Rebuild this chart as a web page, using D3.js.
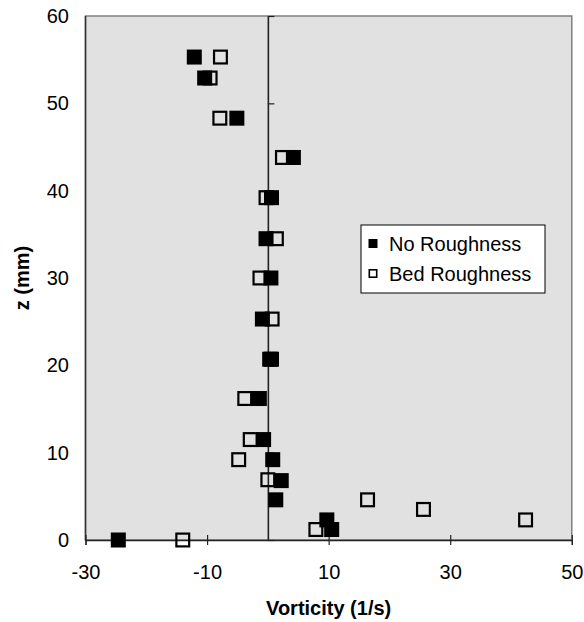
<!DOCTYPE html>
<html>
<head>
<meta charset="utf-8">
<script src="https://cdn.jsdelivr.net/npm/d3@7"></script>
<style>
  html, body { margin: 0; padding: 0; background: #fff; }
  svg { display: block; }
  text { font-family: "Liberation Sans", Arial, sans-serif; fill: #000; }
</style>
</head>
<body>
<svg id="chart" width="584" height="622"></svg>
<script>
// Vorticity profiles: height above bed (mm) and vorticity (1/s)
const noRoughZ    = [55.3, 52.9, 48.3, 43.8, 39.2, 34.5, 30.0, 25.3, 20.7, 16.2, 11.5, 9.2, 6.8, 4.6, 2.3, 1.2, 0];
const noRoughVort = [-12.1, -10.4, -5.1, 4.2, 0.6, -0.3, 0.5, -0.9, 0.6, -1.4, -0.7, 0.8, 2.2, 1.3, 9.7, 10.5, -24.6];

const bedRoughZ    = [55.3, 52.9, 48.3, 43.8, 39.2, 34.5, 30.0, 25.3, 20.7, 16.2, 11.5, 9.2, 6.9, 4.6, 3.5, 2.3, 1.2, 0];
const bedRoughVort = [-7.8, -9.5, -7.9, 2.4, -0.3, 1.4, -1.3, 0.7, 0.3, -3.8, -2.9, -4.8, 0.0, 16.4, 25.6, 42.4, 7.9, -14.0];

const seriesNames = ["No Roughness", "Bed Roughness"];
const xTicks = [-30, -10, 10, 30, 50];
const yTicks = [0, 10, 20, 30, 40, 50, 60];
const xTitle = "Vorticity (1/s)";
const yTitle = "z (mm)";

const svg = d3.select("#chart");
const plot = { left: 85.5, right: 571.8, top: 16, bottom: 540 };
const fmt = d => String(d);   // plain hyphen-minus labels

const x = d3.scaleLinear().domain([-30, 50]).range([plot.left, plot.right]);
const y = d3.scaleLinear().domain([0, 60]).range([plot.bottom, plot.top]);

// plot area
svg.append("rect")
  .attr("x", plot.left).attr("y", plot.top)
  .attr("width", plot.right - plot.left).attr("height", plot.bottom - plot.top)
  .attr("fill", "#e1e1e1")
  .attr("stroke", "#808080").attr("stroke-width", 1.5);
svg.append("line")
  .attr("x1", plot.left).attr("x2", plot.left)
  .attr("y1", plot.top).attr("y2", plot.bottom)
  .attr("stroke", "#333").attr("stroke-width", 1.5);

// x axis along z = 0, ticks crossing the line
const xAxis = svg.append("g")
  .attr("transform", `translate(0,${y(0)})`)
  .call(d3.axisBottom(x).tickValues(xTicks).tickSize(5).tickPadding(20).tickFormat(fmt));
xAxis.select(".domain").attr("stroke", "#222").attr("stroke-width", 1.3);
xAxis.selectAll(".tick line").attr("y1", -5).attr("stroke", "#222").attr("stroke-width", 1.2);
xAxis.selectAll(".tick text").attr("font-size", 20).attr("font-family", "Liberation Sans, Arial, sans-serif");

// y axis along vorticity = 0, ticks crossing the line
const yAxis = svg.append("g")
  .attr("transform", `translate(${x(0)},0)`)
  .call(d3.axisLeft(y).tickValues(yTicks).tickSize(6.5).tickSizeOuter(0).tickFormat(""));
yAxis.select(".domain").attr("stroke", "#222").attr("stroke-width", 1.6);
yAxis.selectAll(".tick line").attr("x2", 6.5).attr("stroke", "#222").attr("stroke-width", 1.2);

// y tick labels at the left edge of the plot
const yLabels = svg.append("g")
  .attr("transform", `translate(${plot.left},0)`)
  .call(d3.axisLeft(y).tickValues(yTicks).tickSize(0).tickPadding(16.5).tickFormat(fmt));
yLabels.select(".domain").remove();
yLabels.selectAll(".tick text").attr("font-size", 20).attr("font-family", "Liberation Sans, Arial, sans-serif");

// axis titles
svg.append("text")
  .attr("x", (plot.left + plot.right) / 2).attr("y", 615)
  .attr("text-anchor", "middle").attr("font-size", 20).attr("font-weight", "bold")
  .text(xTitle);
svg.append("text")
  .attr("transform", `translate(29,${(plot.top + plot.bottom) / 2}) rotate(-90)`)
  .attr("text-anchor", "middle").attr("font-size", 20).attr("font-weight", "bold")
  .text(yTitle);

// markers
const size = 15;
const noRough = noRoughZ.map((z, i) => ({ z, v: noRoughVort[i] }));
const bedRough = bedRoughZ.map((z, i) => ({ z, v: bedRoughVort[i] }));

svg.append("g").selectAll("rect").data(noRough).join("rect")
  .attr("x", d => x(d.v) - size / 2).attr("y", d => y(d.z) - size / 2)
  .attr("width", size).attr("height", size)
  .attr("fill", "#000");

svg.append("g").selectAll("rect").data(bedRough).join("rect")
  .attr("x", d => x(d.v) - size / 2 + 1.1).attr("y", d => y(d.z) - size / 2 + 1.1)
  .attr("width", size - 2.2).attr("height", size - 2.2)
  .attr("fill", "none").attr("stroke", "#000").attr("stroke-width", 2.2);

// legend
const lg = svg.append("g");
lg.append("rect")
  .attr("x", 361).attr("y", 225).attr("width", 184).attr("height", 68)
  .attr("fill", "#fff").attr("stroke", "#000").attr("stroke-width", 1);
seriesNames.forEach((name, i) => {
  const cy = 243.5 + i * 30;
  const m = lg.append("rect")
    .attr("x", 368.5).attr("y", cy - 4.5).attr("width", 9).attr("height", 9);
  if (i === 0) m.attr("fill", "#000");
  else m.attr("x", 369.3).attr("y", cy - 3.7).attr("width", 7.4).attr("height", 7.4)
        .attr("fill", "#fff").attr("stroke", "#000").attr("stroke-width", 1.6);
  lg.append("text")
    .attr("x", 389).attr("y", cy + 7).attr("font-size", 20)
    .text(name);
});
</script>
</body>
</html>
